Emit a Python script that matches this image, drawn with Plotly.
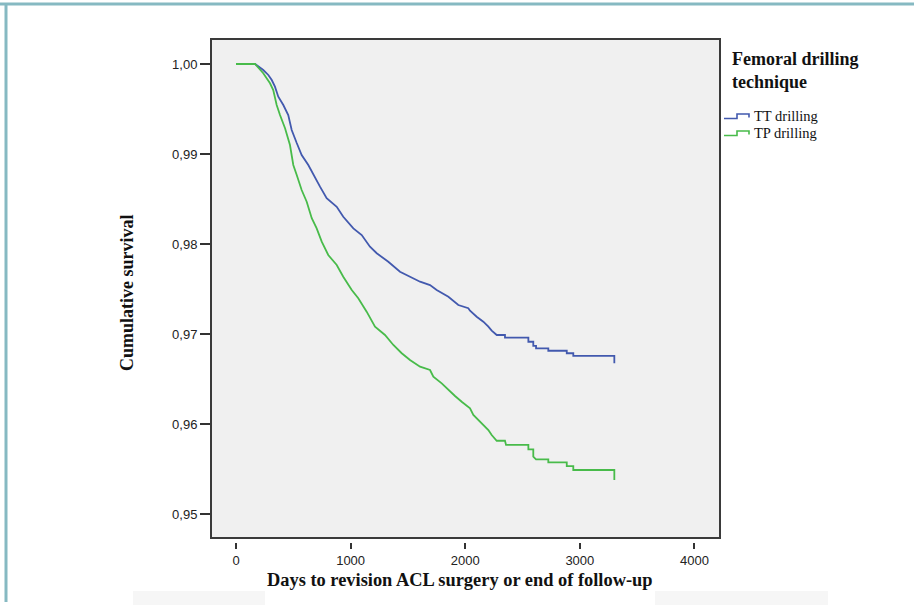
import plotly.graph_objects as go

# ---------------- data ----------------
tt_days = [0, 166, 238, 282, 312, 340, 369, 413, 456, 486, 530, 573, 631, 675, 733, 791, 879, 936, 995, 1024,
           1097, 1169, 1228, 1329, 1431, 1518, 1606, 1693, 1751, 1853, 1940, 2027, 2042, 2100, 2158, 2202, 2231,
           2275, 2347, 2347, 2551, 2551, 2594, 2594, 2618, 2618, 2725, 2725, 2886, 2886, 2943, 2943, 3301, 3301]
tt_surv = [1.0, 1.0, 0.99933, 0.99878, 0.99822, 0.99748, 0.99637, 0.99544, 0.99433, 0.99267,
           0.99122, 0.98989, 0.98878, 0.98767, 0.98637, 0.98508, 0.98414, 0.98303, 0.98211, 0.98174,
           0.98100, 0.97970, 0.97897, 0.97803, 0.97692, 0.97637, 0.97581, 0.97544, 0.97489, 0.97414,
           0.97322, 0.97286, 0.97259, 0.97192, 0.97137, 0.97081, 0.97037, 0.96989, 0.96989, 0.96959,
           0.96959, 0.96914, 0.96914, 0.96867, 0.96867, 0.96841, 0.96841, 0.96814, 0.96814, 0.96786,
           0.96786, 0.96756, 0.96756, 0.96674]

tp_days = [0, 166, 238, 297, 325, 355, 384, 428, 471, 500, 530, 573, 617, 661, 704, 748, 805, 879, 936, 1010,
           1067, 1140, 1213, 1300, 1373, 1446, 1518, 1606, 1693, 1722, 1795, 1853, 1911, 1972, 2042, 2071, 2114,
           2158, 2202, 2231, 2275, 2347, 2356, 2551, 2551, 2594, 2594, 2618, 2725, 2725, 2886, 2886, 2943, 2943,
           3301, 3301]
tp_surv = [1.0, 1.0, 0.99897, 0.99786, 0.99711, 0.99544, 0.99433, 0.99286, 0.99100, 0.98878,
           0.98767, 0.98600, 0.98470, 0.98286, 0.98174, 0.98026, 0.97878, 0.97767, 0.97637, 0.97489,
           0.97397, 0.97248, 0.97081, 0.96989, 0.96878, 0.96786, 0.96711, 0.96637, 0.96600, 0.96526,
           0.96452, 0.96378, 0.96311, 0.96244, 0.96174, 0.96100, 0.96044, 0.95989, 0.95933, 0.95878,
           0.95814, 0.95814, 0.95767, 0.95767, 0.95719, 0.95719, 0.95637, 0.95608, 0.95608, 0.95574,
           0.95574, 0.95533, 0.95533, 0.95489, 0.95489, 0.95378]

series_names = ["TT drilling", "TP drilling"]
x_ticks = [0, 1000, 2000, 3000, 4000]
y_ticks = [0.95, 0.96, 0.97, 0.98, 0.99, 1.00]
legend_title = "Femoral drilling<br>technique"
x_title = "Days to revision ACL surgery or end of follow-up"
y_title = "Cumulative survival"

# ---------------- styling ----------------
W, H = 914, 605
L, R, T, B = 211, 720, 39, 542      # plot area in pixels
FRAME_BOTTOM = 538
BLUE = "#4259ae"
GREEN = "#48bb4a"
SERIF = "Liberation Serif, Times New Roman, serif"
SANS = "Liberation Sans, Arial, sans-serif"


def px(xp):
    return (xp - L) / (R - L)


def py(yp):
    return (B - yp) / (B - T)


fig = go.Figure()
for d, s, n, c in [(tt_days, tt_surv, series_names[0], BLUE), (tp_days, tp_surv, series_names[1], GREEN)]:
    fig.add_trace(go.Scatter(x=d, y=s, mode="lines", name=n, line=dict(color=c, width=1.8),
                             showlegend=False, hoverinfo="x+y+name"))

shapes = []
# grey plot frame
shapes.append(dict(type="rect", xref="paper", yref="paper", x0=0, x1=1, y0=py(FRAME_BOTTOM), y1=1,
                   fillcolor="#f0f0f0", line=dict(color="#3a3a3a", width=2), layer="below"))
# page border (teal)
shapes.append(dict(type="line", xref="paper", yref="paper", x0=px(0), x1=px(W), y0=py(4), y1=py(4),
                   line=dict(color="#86b9c2", width=3)))
shapes.append(dict(type="line", xref="paper", yref="paper", x0=px(6), x1=px(6), y0=py(3), y1=py(602),
                   line=dict(color="#86b9c2", width=3)))
# faint blocks at bottom
for x0, x1 in [(133, 265), (655, 828)]:
    shapes.append(dict(type="rect", xref="paper", yref="paper", x0=px(x0), x1=px(x1), y0=py(605), y1=py(591),
                       fillcolor="#f6f6f6", line=dict(width=0), layer="below"))
# legend step icons
for i, c in enumerate([BLUE, GREEN]):
    off = 17 * i
    path = "M {} {} L {} {} L {} {} L {} {} L {} {}".format(
        px(724), py(118.5 + off), px(737), py(118.5 + off), px(737), py(114 + off),
        px(749), py(114 + off), px(749), py(117.5 + off))
    shapes.append(dict(type="path", xref="paper", yref="paper", path=path, line=dict(color=c, width=1.6)))

annotations = [
    dict(text="<b>" + legend_title + "</b>", xref="paper", yref="paper", x=px(730), y=py(47),
         xanchor="left", yanchor="top", align="left", showarrow=False,
         font=dict(family=SERIF, size=18, color="#111")),
    dict(text=series_names[0], xref="paper", yref="paper", x=px(752), y=py(116), xanchor="left",
         yanchor="middle", showarrow=False, font=dict(family=SERIF, size=14.5, color="#111")),
    dict(text=series_names[1], xref="paper", yref="paper", x=px(752), y=py(133), xanchor="left",
         yanchor="middle", showarrow=False, font=dict(family=SERIF, size=14.5, color="#111")),
    dict(text="<b>" + x_title + "</b>", xref="paper", yref="paper", x=px(460), y=py(580),
         xanchor="center", yanchor="middle", showarrow=False, font=dict(family=SERIF, size=18.4, color="#111")),
    dict(text="<b>" + y_title + "</b>", xref="paper", yref="paper", x=px(127), y=py(293), textangle=-90,
         xanchor="center", yanchor="middle", showarrow=False, font=dict(family=SERIF, size=18, color="#111")),
]

fig.update_layout(
    width=W, height=H,
    margin=dict(l=L, r=W - R, t=T, b=H - B, pad=0),
    paper_bgcolor="white", plot_bgcolor="rgba(0,0,0,0)",
    separators=",.",
    shapes=shapes, annotations=annotations,
    showlegend=False,
    xaxis=dict(range=[-218, 4223], tickvals=x_ticks, tickformat="d", showgrid=False, zeroline=False,
               showline=False, ticks="outside", ticklen=6, tickwidth=2, tickcolor="#333",
               tickfont=dict(family=SANS, size=13, color="#222"), fixedrange=True),
    yaxis=dict(range=[0.946889, 1.002778], tickvals=y_ticks, tickformat=".2f", showgrid=False,
               zeroline=False, showline=False, ticks="outside", ticklen=10, tickwidth=2, tickcolor="#333",
               tickfont=dict(family=SANS, size=13, color="#222"), fixedrange=True),
)

fig.write_html("out.html", config={"displayModeBar": False},
               post_script="document.body.style.margin='0';document.body.style.overflow='hidden';")
